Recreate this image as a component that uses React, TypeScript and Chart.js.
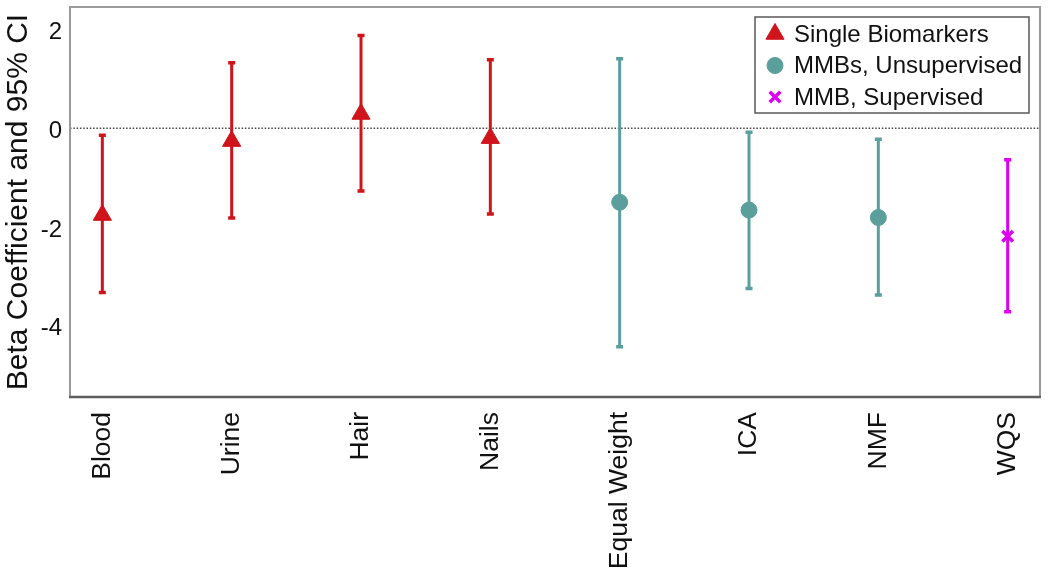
import React, { useEffect, useRef } from "react";
import { Chart, registerables } from "chart.js";

Chart.register(...registerables);

const categories = ["Blood", "Urine", "Hair", "Nails", "Equal Weight", "ICA", "NMF", "WQS"];
const beta = [-1.76, -0.26, 0.29, -0.2, -1.5, -1.66, -1.81, -2.19];
const ciLower = [-3.33, -1.82, -1.27, -1.74, -4.43, -3.25, -3.38, -3.72];
const ciUpper = [-0.14, 1.33, 1.88, 1.39, 1.41, -0.08, -0.22, -0.64];
const groupOf = [0, 0, 0, 0, 1, 1, 1, 2];
const groupNames = ["Single Biomarkers", "MMBs, Unsupervised", "MMB, Supervised"];
const yTicks = [-4, -2, 0, 2];

const COLORS = ["#D0141C", "#5A9F9C", "#DC00F0"];
const STYLES = ["triangle", "circle", "crossRot"];
const RADII = [10.5, 8, 7.5];
const BORDERS = [1, 1, 3.5];
const FONT = "'Liberation Sans', Arial, Helvetica, sans-serif";

function drawMarker(ctx: CanvasRenderingContext2D, g: number, x: number, y: number) {
  const r = RADII[g];
  ctx.save();
  ctx.fillStyle = COLORS[g];
  ctx.strokeStyle = COLORS[g];
  ctx.lineWidth = BORDERS[g];
  ctx.beginPath();
  if (g === 0) {
    let rad = 0;
    const t = (2 * Math.PI) / 3;
    ctx.moveTo(x + Math.sin(rad) * r, y - Math.cos(rad) * r);
    rad += t;
    ctx.lineTo(x + Math.sin(rad) * r, y - Math.cos(rad) * r);
    rad += t;
    ctx.lineTo(x + Math.sin(rad) * r, y - Math.cos(rad) * r);
    ctx.closePath();
    ctx.fill();
    ctx.stroke();
  } else if (g === 1) {
    ctx.arc(x, y, r, 0, Math.PI * 2);
    ctx.fill();
    ctx.stroke();
  } else {
    const o = r * Math.SQRT1_2;
    ctx.moveTo(x - o, y - o);
    ctx.lineTo(x + o, y + o);
    ctx.moveTo(x - o, y + o);
    ctx.lineTo(x + o, y - o);
    ctx.stroke();
  }
  ctx.restore();
}

const errorBarPlugin = {
  id: "errorBars",
  beforeDatasetsDraw(chart: any) {
    const { ctx, chartArea, scales } = chart;
    const xs = scales.x;
    const ys = scales.y;
    ctx.save();
    ctx.strokeStyle = "#444";
    ctx.lineWidth = 1.5;
    ctx.setLineDash([1.5, 1.8]);
    ctx.beginPath();
    const y0 = ys.getPixelForValue(0);
    ctx.moveTo(chartArea.left, y0);
    ctx.lineTo(chartArea.right, y0);
    ctx.stroke();
    ctx.setLineDash([]);
    categories.forEach((_, i) => {
      const px = xs.getPixelForValue(i + 1);
      const pLo = ys.getPixelForValue(ciLower[i]);
      const pHi = ys.getPixelForValue(ciUpper[i]);
      ctx.strokeStyle = COLORS[groupOf[i]];
      ctx.lineWidth = 3;
      ctx.beginPath();
      ctx.moveTo(px, pLo);
      ctx.lineTo(px, pHi);
      ctx.stroke();
      ctx.lineWidth = 3.5;
      ctx.beginPath();
      ctx.moveTo(px - 3.5, pLo);
      ctx.lineTo(px + 3.5, pLo);
      ctx.moveTo(px - 3.5, pHi);
      ctx.lineTo(px + 3.5, pHi);
      ctx.stroke();
    });
    ctx.restore();
  },
  afterDraw(chart: any) {
    const { ctx, chartArea } = chart;
    const { left, top, right, bottom } = chartArea;
    ctx.save();
    ctx.strokeStyle = "#9a9a9a";
    ctx.lineWidth = 2;
    ctx.beginPath();
    ctx.moveTo(left, bottom);
    ctx.lineTo(left, top);
    ctx.lineTo(right, top);
    ctx.lineTo(right, bottom);
    ctx.stroke();
    ctx.strokeStyle = "#5e5e5e";
    ctx.lineWidth = 2.5;
    ctx.beginPath();
    ctx.moveTo(left - 1, bottom);
    ctx.lineTo(right + 1, bottom);
    ctx.stroke();
    const bx = 755, by = 17, bw = 274, bh = 96;
    ctx.fillStyle = "#ffffff";
    ctx.fillRect(bx, by, bw, bh);
    ctx.strokeStyle = "#5a5a5a";
    ctx.lineWidth = 1.5;
    ctx.strokeRect(bx, by, bw, bh);
    const rowsY = [34, 65.5, 97];
    ctx.font = `24px ${FONT}`;
    ctx.textBaseline = "middle";
    ctx.textAlign = "left";
    groupNames.forEach((name, g) => {
      drawMarker(ctx, g, 775, rowsY[g]);
      ctx.fillStyle = "#111";
      ctx.fillText(name, 794, rowsY[g] + 1);
    });
    ctx.restore();
  },
};

function zeroPad(scale: any) {
  scale.paddingTop = 0;
  scale.paddingBottom = 0;
  scale.paddingLeft = 0;
  scale.paddingRight = 0;
}

export default function App() {
  const ref = useRef<HTMLCanvasElement | null>(null);
  useEffect(() => {
    document.body.style.margin = "0";
    const canvas = ref.current;
    if (!canvas) return;
    const datasets = groupNames.map((name, g) => ({
      label: name,
      data: categories
        .map((_, i) => ({ x: i + 1, y: beta[i], g: groupOf[i] }))
        .filter((d) => d.g === g)
        .map((d) => ({ x: d.x, y: d.y })),
      pointStyle: STYLES[g],
      pointRadius: RADII[g],
      pointBorderWidth: BORDERS[g],
      backgroundColor: COLORS[g],
      borderColor: COLORS[g],
      showLine: false,
    }));
    const chart = new Chart(canvas, {
      type: "scatter",
      data: { datasets: datasets as any },
      plugins: [errorBarPlugin],
      options: {
        animation: false,
        responsive: false,
        events: [],
        layout: { autoPadding: false, padding: { top: 7, right: 10, left: 0, bottom: 0 } },
        plugins: { legend: { display: false }, tooltip: { enabled: false } },
        scales: {
          x: {
            type: "linear",
            min: 0.75,
            max: 8.25,
            grid: { display: false, drawTicks: false },
            border: { display: false },
            afterBuildTicks: (scale: any) => {
              scale.ticks = categories.map((_, i) => ({ value: i + 1 }));
            },
            afterFit: (scale: any) => {
              scale.height = 180;
              zeroPad(scale);
            },
            ticks: {
              autoSkip: false,
              minRotation: 90,
              maxRotation: 90,
              padding: 15,
              color: "#111",
              font: { family: FONT, size: 26.5 },
              callback: (v: any) => categories[Math.round(v) - 1] ?? "",
            },
          },
          y: {
            type: "linear",
            min: -5.45,
            max: 2.46,
            grid: { display: false, drawTicks: false },
            border: { display: false },
            afterBuildTicks: (scale: any) => {
              scale.ticks = yTicks.map((v) => ({ value: v }));
            },
            afterFit: (scale: any) => {
              scale.width = 70;
              zeroPad(scale);
            },
            ticks: {
              padding: 8,
              labelOffset: 3,
              color: "#111",
              font: { family: FONT, size: 24 },
              callback: (v: any) => String(v),
            },
            title: {
              display: true,
              text: "Beta Coefficient and 95% CI",
              color: "#111",
              font: { family: FONT, size: 30 },
              padding: { top: 1, bottom: 0 },
            },
          },
        },
      },
    });
    return () => chart.destroy();
  }, []);
  return (
    <div style={{ width: 1050, height: 577 }}>
      <canvas ref={ref} width={1050} height={577} style={{ display: "block" }} />
    </div>
  );
}
